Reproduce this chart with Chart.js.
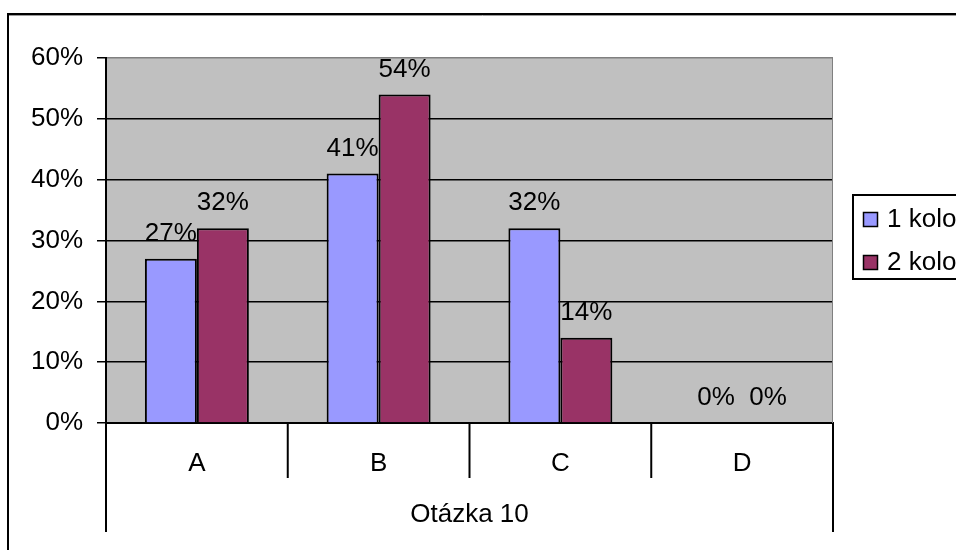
<!DOCTYPE html>
<html>
<head>
<meta charset="utf-8">
<script src="https://cdn.jsdelivr.net/npm/chart.js@4/dist/chart.umd.min.js"></script>
<style>
  html, body { margin: 0; padding: 0; background: #fff; overflow: hidden; }
  #wrap { width: 956px; height: 550px; }
</style>
</head>
<body>
<div id="wrap"><canvas id="c" width="956" height="550"></canvas></div>
<script>
// Survey answers, question 10, share of respondents per round (percent)
const categories = ['A', 'B', 'C', 'D'];
const round1 = [27, 41, 32, 0];
const round2 = [32, 54, 14, 0];
const seriesNames = ['1 kolo', '2 kolo'];
const yTicks = [0, 10, 20, 30, 40, 50, 60];
const groupTitle = 'Otázka 10';

const FONT = "'Liberation Sans', Arial, sans-serif";
const FS = 26;
const COLORS = ['#9999FF', '#993366'];

// Page frame, grey plot background and grey plot border
const backdrop = {
  id: 'backdrop',
  beforeDraw(chart) {
    const { ctx, chartArea: a } = chart;
    ctx.save();
    ctx.fillStyle = '#fff';
    ctx.fillRect(0, 0, chart.width, chart.height);
    ctx.fillStyle = '#C0C0C0';
    ctx.fillRect(a.left, a.top, a.right - a.left, a.bottom - a.top);
    ctx.strokeStyle = '#000';
    ctx.lineWidth = 2;
    ctx.strokeRect(8, 14, 2000, 2000);
    ctx.strokeStyle = '#9a9a9a';
    ctx.lineWidth = 1;
    ctx.beginPath();
    ctx.moveTo(9, 15.5);
    ctx.lineTo(chart.width, 15.5);
    ctx.stroke();
    ctx.restore();
  },
  afterDatasetsDraw(chart) {
    const { ctx, chartArea: a } = chart;
    ctx.save();
    ctx.strokeStyle = '#808080';
    ctx.lineWidth = 1;
    ctx.beginPath();
    ctx.moveTo(a.right - 0.5, a.top);
    ctx.lineTo(a.right - 0.5, a.bottom);
    ctx.stroke();
    ctx.restore();
  }
};

// Two-level category axis: separators between answers, outer edges span the group label
const groupAxis = {
  id: 'groupAxis',
  afterDraw(chart) {
    const { ctx, chartArea: a } = chart;
    const xs = chart.scales.x;
    const n = categories.length;
    ctx.save();
    ctx.strokeStyle = '#000';
    ctx.lineWidth = 2;
    for (let i = 0; i <= n; i++) {
      let x, len;
      if (i === 0) { x = a.left; len = 109; }
      else if (i === n) { x = a.right; len = 109; }
      else { x = (xs.getPixelForValue(i - 1) + xs.getPixelForValue(i)) / 2; len = 55; }
      ctx.beginPath();
      ctx.moveTo(x, a.bottom);
      ctx.lineTo(x, a.bottom + len);
      ctx.stroke();
    }
    ctx.restore();
  }
};

// Percent value above every bar
const valueLabels = {
  id: 'valueLabels',
  afterDatasetsDraw(chart) {
    const { ctx } = chart;
    ctx.save();
    ctx.font = FS + 'px ' + FONT;
    ctx.fillStyle = '#000';
    ctx.textAlign = 'center';
    ctx.textBaseline = 'alphabetic';
    chart.data.datasets.forEach((ds, di) => {
      chart.getDatasetMeta(di).data.forEach((bar, i) => {
        ctx.fillText(ds.data[i] + '%', bar.x, bar.y - 18);
      });
    });
    ctx.restore();
  }
};

// Boxed legend at the right edge
const boxLegend = {
  id: 'boxLegend',
  afterDraw(chart) {
    const { ctx } = chart;
    const left = 853, top = 195, h = 84;
    ctx.save();
    ctx.fillStyle = '#fff';
    ctx.fillRect(left, top, 300, h);
    ctx.strokeStyle = '#000';
    ctx.lineWidth = 2;
    ctx.strokeRect(left, top, 300, h);
    ctx.font = FS + 'px ' + FONT;
    ctx.textBaseline = 'middle';
    ctx.textAlign = 'left';
    chart.data.datasets.forEach((ds, i) => {
      const cy = top + 24 + i * 43;
      ctx.fillStyle = ds.backgroundColor;
      ctx.fillRect(left + 10.5, cy - 7, 14, 14);
      ctx.strokeStyle = '#000';
      ctx.lineWidth = 1.5;
      ctx.strokeRect(left + 10.5, cy - 7 + 0.5, 14, 14);
      ctx.fillStyle = '#000';
      ctx.fillText(ds.label, left + 34, cy + 1);
    });
    ctx.restore();
  }
};

new Chart(document.getElementById('c'), {
  type: 'bar',
  data: {
    labels: categories,
    datasets: [
      { label: seriesNames[0], data: round1, backgroundColor: COLORS[0] },
      { label: seriesNames[1], data: round2, backgroundColor: COLORS[1] }
    ].map(d => Object.assign(d, {
      borderColor: '#000', borderWidth: 2,
      categoryPercentage: 0.572, barPercentage: 1
    }))
  },
  options: {
    responsive: false,
    animation: false,
    devicePixelRatio: 1,
    layout: { padding: { top: 58, right: 123, left: 0, bottom: 0 } },
    plugins: { legend: { display: false }, tooltip: { enabled: false } },
    scales: {
      x: {
        offset: true,
        grid: { display: false },
        border: { display: true, color: '#000', width: 2 },
        ticks: { color: '#000', font: { family: FONT, size: FS }, padding: 17 },
        title: {
          display: true, text: groupTitle, color: '#000',
          font: { family: FONT, size: FS }, padding: { top: 0, bottom: 20 }
        },
        afterFit(s) { s.height = 127; }
      },
      y: {
        min: 0, max: 60,
        afterBuildTicks(s) { s.ticks = yTicks.map(v => ({ value: v })); },
        ticks: { color: '#000', font: { family: FONT, size: FS }, padding: 14, callback: v => v + '%' },
        grid: {
          color: c => (c.tick && c.tick.value === 60 ? '#808080' : '#000'),
          lineWidth: 1.5, tickLength: 9, tickColor: '#000'
        },
        border: { display: true, color: '#000', width: 2 },
        afterFit(s) { s.width = 106; }
      }
    }
  },
  plugins: [backdrop, groupAxis, valueLabels, boxLegend]
});
</script>
</body>
</html>
